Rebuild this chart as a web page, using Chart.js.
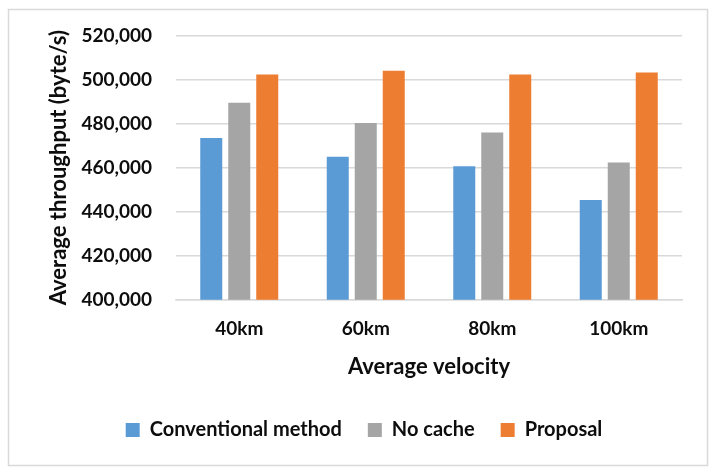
<!DOCTYPE html>
<html>
<head>
<meta charset="utf-8">
<script src="https://cdn.jsdelivr.net/npm/chart.js@4/dist/chart.umd.min.js"></script>
<style>
html,body{margin:0;padding:0;background:#fff;}
#wrap{position:absolute;left:0;top:0;width:718px;height:475px;}
</style>
</head>
<body>
<div id="wrap"><canvas id="c" width="718" height="475"></canvas></div>
<script>
const categories = ["40km", "60km", "80km", "100km"];
const conventional = [473400, 464900, 460600, 445300];
const noCache = [489400, 480200, 475900, 462300];
const proposal = [502300, 504000, 502300, 503200];
const seriesNames = ["Conventional method", "No cache", "Proposal"];
const yMin = 400000, yMax = 520000, yStep = 20000;

const FONT = "Lato, 'Open Sans', sans-serif";
const TXT = "#0d0d0d";
const W = 'bold';

const frame = {
  id: 'frame',
  beforeDraw(chart) {
    const ctx = chart.ctx;
    ctx.save();
    ctx.fillStyle = '#fff';
    ctx.fillRect(0, 0, chart.width, chart.height);
    ctx.strokeStyle = '#d9d9d9';
    ctx.lineWidth = 1.5;
    ctx.strokeRect(8.5, 9.5, 699, 456);
    ctx.restore();
  }
};

new Chart(document.getElementById('c'), {
  type: 'bar',
  data: {
    labels: categories,
    datasets: [
      { label: seriesNames[0], data: conventional, backgroundColor: '#5B9BD5' },
      { label: seriesNames[1], data: noCache, backgroundColor: '#A5A5A5' },
      { label: seriesNames[2], data: proposal, backgroundColor: '#ED7D31' }
    ]
  },
  options: {
    responsive: false,
    animation: false,
    devicePixelRatio: 1,
    datasets: { bar: { categoryPercentage: 0.664, barPercentage: 0.786 } },
    layout: { padding: { left: 46, right: 36, top: 28, bottom: 25 } },
    plugins: {
      legend: {
        position: 'bottom',
        labels: {
          boxWidth: 14, boxHeight: 14, padding: 26,
          color: TXT, font: { family: FONT, size: 20, weight: W }
        }
      },
      tooltip: { enabled: false }
    },
    scales: {
      x: {
        grid: { display: false },
        border: { color: '#d9d9d9', width: 1.5 },
        ticks: { color: TXT, font: { family: FONT, size: 19, weight: W }, padding: 10 },
        title: { display: true, text: 'Average velocity', color: TXT, font: { family: FONT, size: 22, weight: W }, padding: { top: 3, bottom: 14 } }
      },
      y: {
        min: yMin, max: yMax,
        afterFit(scale) { scale.width = 130; },
        ticks: {
          stepSize: yStep, color: TXT, font: { family: FONT, size: 19, weight: W }, padding: 24,
          callback: v => v.toLocaleString('en-US')
        },
        grid: { color: '#d9d9d9', lineWidth: 1.5, drawTicks: false },
        border: { display: false },
        title: { display: true, text: 'Average throughput (byte/s)', color: TXT, font: { family: FONT, size: 22, weight: W }, padding: { top: 0, bottom: 6 } }
      }
    }
  },
  plugins: [frame]
});
</script>
</body>
</html>
